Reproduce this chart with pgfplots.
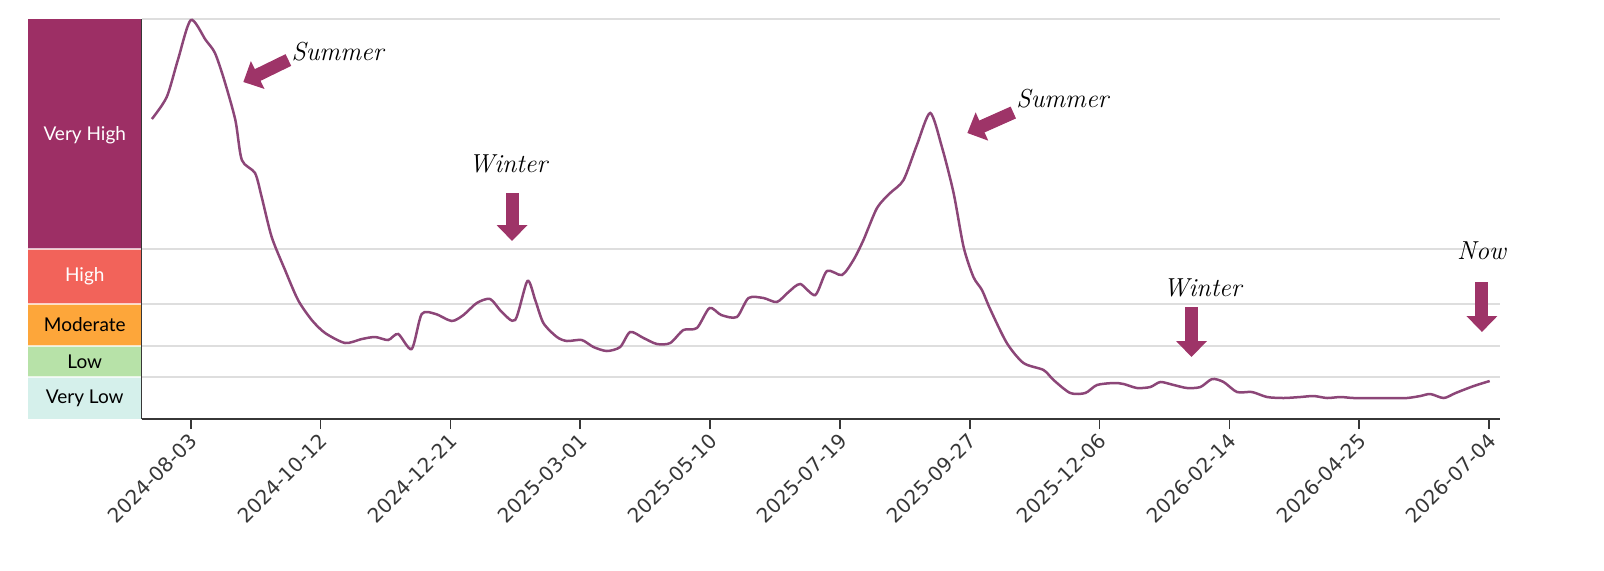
\documentclass[border=0pt]{standalone}
\usepackage{pgfplots}
\pgfplotsset{compat=1.18}
\usetikzlibrary{arrows.meta}
\usepackage{fontspec}
\newfontfamily\lato{Lato}
\newfontfamily\dejavu{DejaVu Sans}
\definecolor{vh}{RGB}{157,47,101}
\definecolor{hi}{RGB}{242,99,90}
\definecolor{mo}{RGB}{253,166,58}
\definecolor{lo}{RGB}{183,226,168}
\definecolor{vl}{RGB}{213,240,235}
\definecolor{linec}{RGB}{140,70,120}
\definecolor{arrc}{RGB}{158,52,104}
\definecolor{gridc}{RGB}{222,222,222}
\definecolor{axc}{RGB}{55,55,55}
\begin{document}
\begin{tikzpicture}
\begin{axis}[
  at={(0,0)}, anchor=south west,
  scale only axis, width=679.2pt, height=200pt,
  xmin=-26.5, xmax=706, ymin=0, ymax=400,
  clip=false,
  axis x line*=bottom, axis y line*=left,
  axis line style={draw=axc, line width=0.8pt},
  xtick={0,70,140,210,280,350,420,490,560,630,700},
  xticklabels={2024-08-03,2024-10-12,2024-12-21,2025-03-01,2025-05-10,2025-07-19,2025-09-27,2025-12-06,2026-02-14,2026-04-25,2026-07-04},
  xticklabel style={font=\dejavu\fontsize{10}{12}\selectfont, xshift=4pt, yshift=-1.5pt, rotate=45, anchor=east, text=axc},
  x tick style={draw=axc, line width=0.8pt},
  xtick align=outside, major tick length=5pt,
  ytick={42,73,115,170,400}, yticklabels={},
  y tick style={draw=none},
  ymajorgrids, grid style={draw=gridc, line width=0.9pt},
]
% risk bands
\fill[vl] (axis cs:-88,0) rectangle (axis cs:-26.5,42);
\fill[lo] (axis cs:-88,42) rectangle (axis cs:-26.5,73);
\fill[mo] (axis cs:-88,73) rectangle (axis cs:-26.5,115);
\fill[hi] (axis cs:-88,115) rectangle (axis cs:-26.5,170);
\fill[vh] (axis cs:-88,170) rectangle (axis cs:-26.5,400);
\foreach \yy in {42,73,115,170}{
  \edef\tmp{\noexpand\draw[white, opacity=0.7, line width=0.9pt] (axis cs:-88,\yy) -- (axis cs:-26.5,\yy);}\tmp
}
\draw[axc, line width=0.8pt] (axis cs:-26.5,0) -- (axis cs:-26.5,400);
\node[font=\lato\fontsize{9.5}{11}\selectfont, text=white] at (axis cs:-57.2,284) {Very High};
\node[font=\lato\fontsize{9.5}{11}\selectfont, text=white] at (axis cs:-57.2,142.5) {High};
\node[font=\lato\fontsize{9.5}{11}\selectfont, text=black] at (axis cs:-57.2,94) {Moderate};
\node[font=\lato\fontsize{9.5}{11}\selectfont, text=black] at (axis cs:-57.2,57.5) {Low};
\node[font=\lato\fontsize{9.5}{11}\selectfont, text=black] at (axis cs:-57.2,21) {Very Low};

\addplot[linec, line width=1.25pt, smooth, tension=0.45] coordinates {
(-21,300) (-13,322) (-7,359) (0,399) (8,379) (13,366) (18,339) (24,299)
(27.5,259) (34.6,246) (38.2,222) (43.6,182) (50.8,149) (57.8,119) (65.2,99)
(72.4,86) (83.2,76) (92.2,80) (99.4,82) (106.4,79) (111.8,85) (119.1,70)
(124.5,105) (132,105) (140.7,98) (147,104) (154.2,116) (161.4,120) (167.7,107)
(174.9,99) (181.5,138) (185.7,119) (190.1,96) (197.4,82) (202.8,78) (210.8,79)
(217.1,72) (224.3,68) (231.5,72) (236.9,87) (244.1,81) (251.3,75) (258.5,76)
(265.6,89) (272.9,91) (279.7,111) (286,104) (294.4,102) (300.7,121) (308.8,121)
(316,117) (322.3,127) (328.6,135) (336.7,124) (343,148) (351.1,144) (357.3,159)
(362.7,179) (370,211) (377.1,226) (384.3,239) (391.5,274) (398.7,306) (405,272)
(411.3,226) (416.7,172) (422,142) (426.6,129) (431,110) (440,76) (449,56)
(459.8,49) (465.2,39) (474.2,26) (482.3,26) (488.6,34) (497.6,36) (503,35)
(510.2,31) (517.4,32) (522.8,37) (530,34) (537.2,31) (544.4,32) (550.7,40)
(556.9,37) (564.1,27) (572.2,27) (580.3,22) (589.3,21) (598.3,22) (605.5,23)
(612.7,21) (619.9,22) (627,21) (637.8,21) (647,21) (655.8,21) (663,23)
(668.4,25) (675.6,21) (682,26) (691.8,33) (700.4,38)
};

% annotations
\tikzset{blockarr/.style={arrc, line width=6.5pt, -{Triangle[width=15pt,length=8pt]}}}
\draw[blockarr] (axis cs:52.6,359) -- (axis cs:28.3,337);
\node[font=\rmfamily\itshape\fontsize{13}{15}\selectfont] at (axis cs:79.1,367) {Summer};
\draw[blockarr] (axis cs:173.2,226) -- (axis cs:173.2,178);
\node[font=\rmfamily\itshape\fontsize{13}{15}\selectfont] at (axis cs:171.1,255) {Winter};
\draw[blockarr] (axis cs:443.5,306.5) -- (axis cs:418.7,286);
\node[font=\rmfamily\itshape\fontsize{13}{15}\selectfont] at (axis cs:470,320) {Summer};
\draw[blockarr] (axis cs:539.6,112) -- (axis cs:539.6,62);
\node[font=\rmfamily\itshape\fontsize{13}{15}\selectfont] at (axis cs:545.5,131) {Winter};
\draw[blockarr] (axis cs:696.2,137) -- (axis cs:696.2,87);
\node[font=\rmfamily\itshape\fontsize{13}{15}\selectfont] at (axis cs:696,168) {Now};
\end{axis}
\pgfresetboundingbox
\path[use as bounding box] (-70.85pt,-75.5pt) rectangle (731.15pt,209.5pt);
\end{tikzpicture}
\end{document}
